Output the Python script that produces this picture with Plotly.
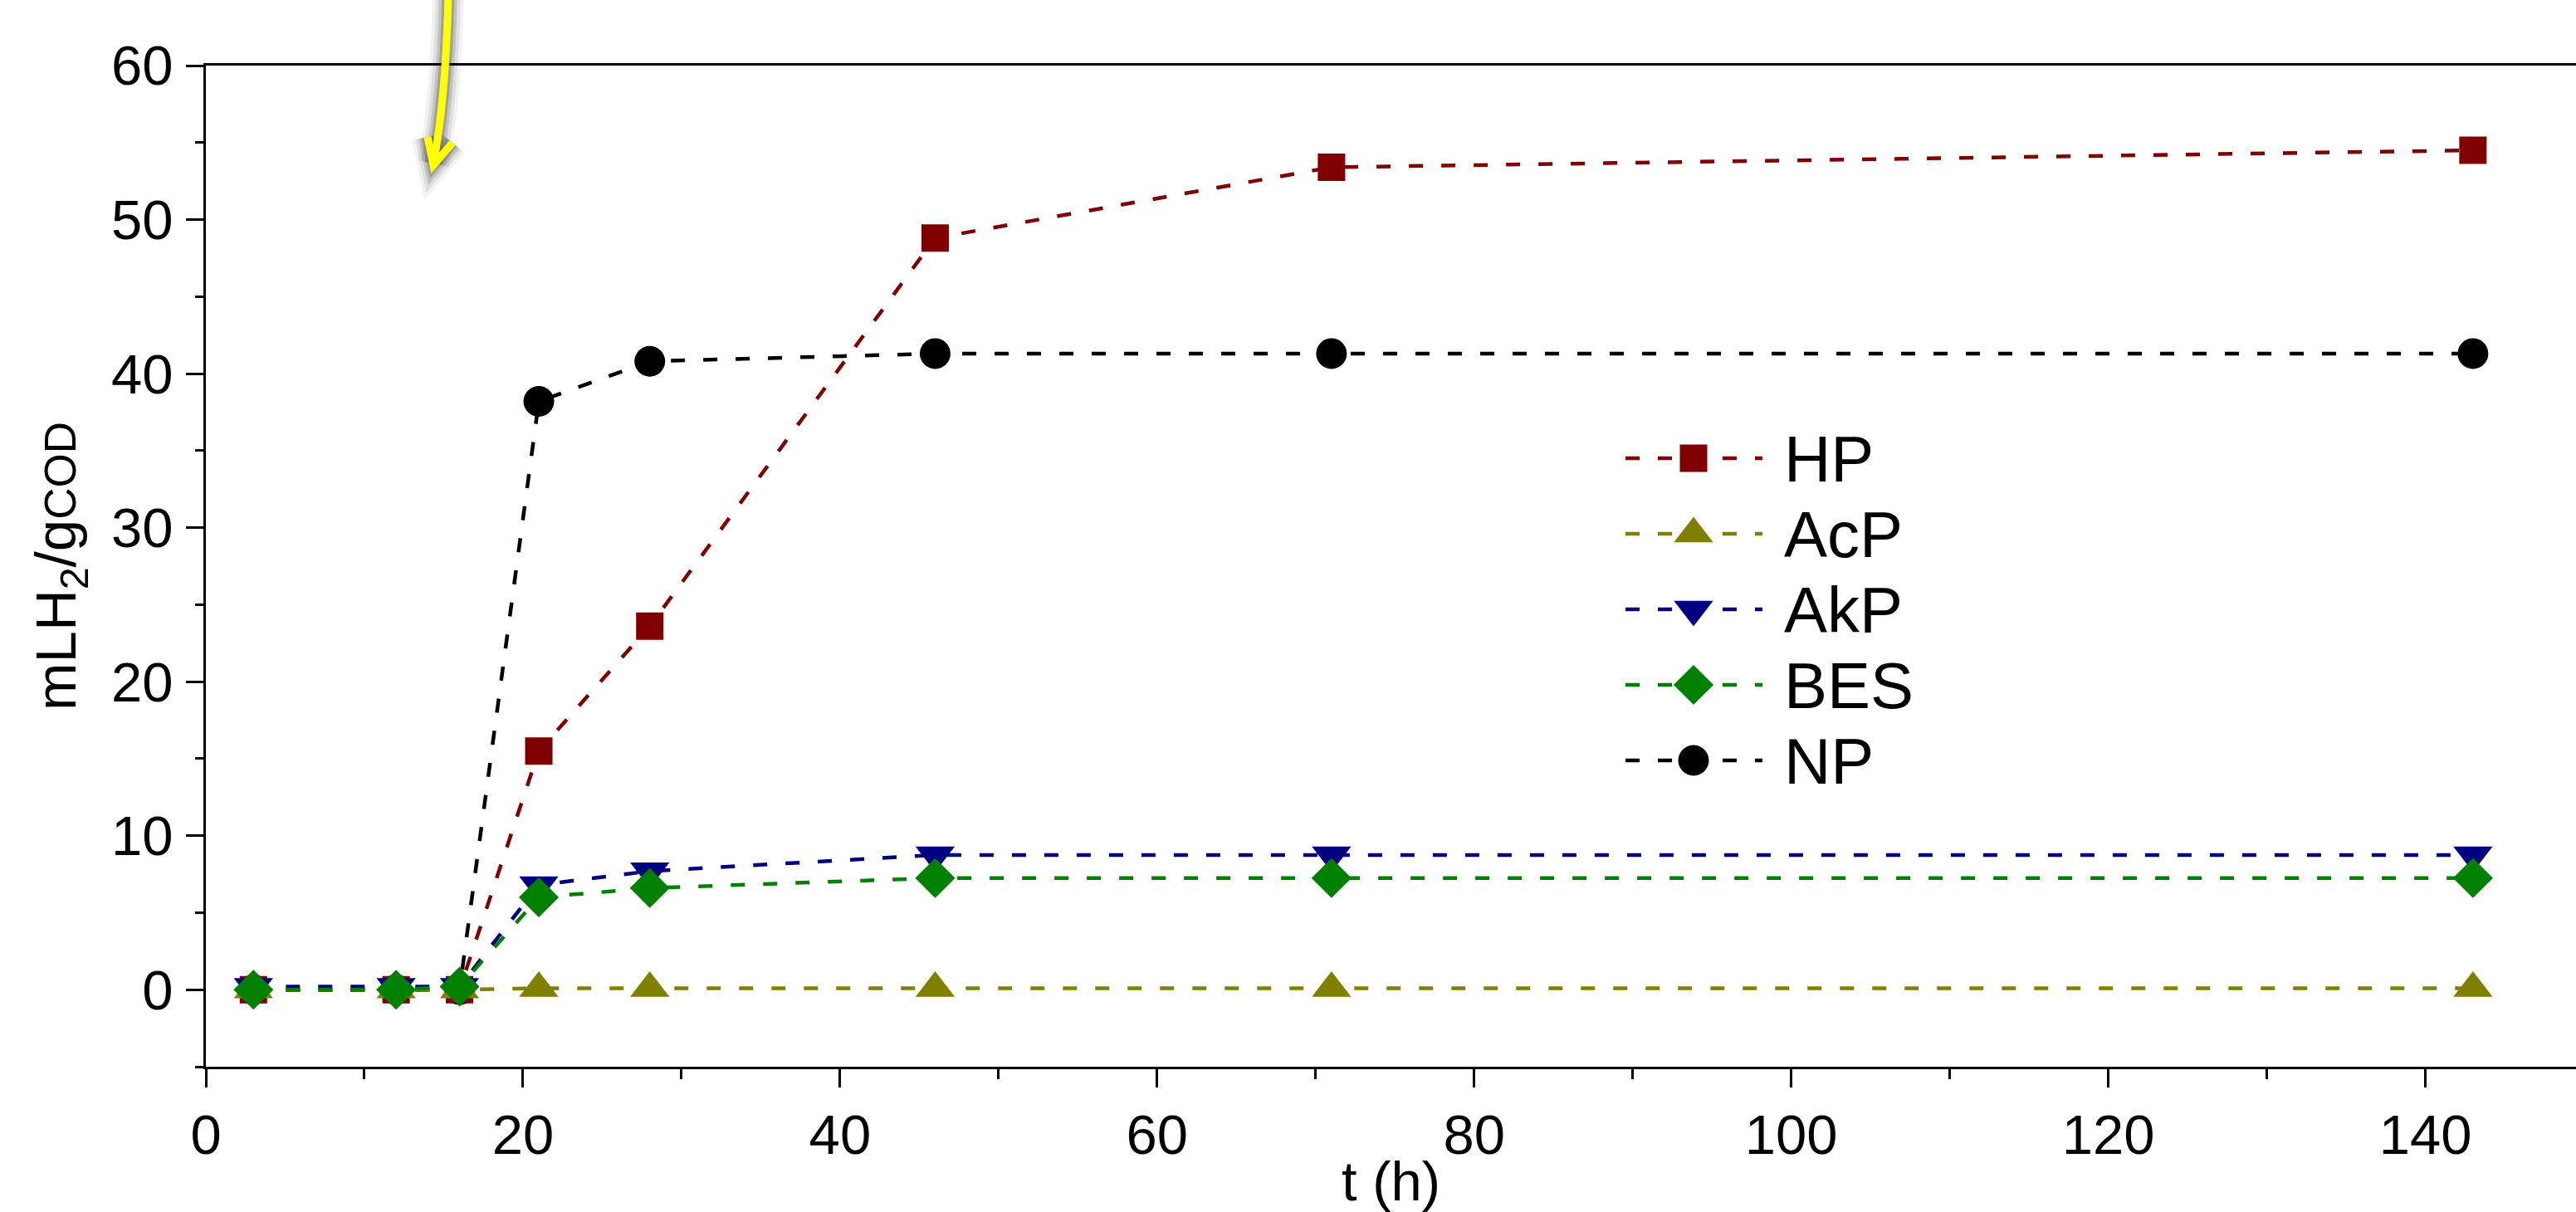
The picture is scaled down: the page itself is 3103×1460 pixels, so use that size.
import plotly.graph_objects as go

# ---------------- data ----------------
t_h = [3, 12, 16, 21, 28, 46, 71, 143]
series_names = ["HP", "AcP", "AkP", "BES", "NP"]
hp = [0.0, 0.0, 0.0, 15.5, 23.6, 48.8, 53.4, 54.5]
acp = [0.0, 0.0, 0.0, 0.1, 0.1, 0.1, 0.1, 0.1]
akp = [0.2, 0.2, 0.2, 6.8, 7.7, 8.75, 8.75, 8.75]
bes = [0.0, 0.0, 0.2, 6.0, 6.6, 7.25, 7.25, 7.25]
np_ = [0.0, 0.0, 0.0, 38.2, 40.8, 41.3, 41.3, 41.3]
x_ticks = [0, 20, 40, 60, 80, 100, 120, 140]
y_ticks = [0, 10, 20, 30, 40, 50, 60]

values = {"HP": hp, "AcP": acp, "AkP": akp, "BES": bes, "NP": np_}
colors = {"HP": "#800000", "AcP": "#808000", "AkP": "#000080", "BES": "#008000", "NP": "#000000"}
symbols = {"HP": "square", "AcP": "triangle-up", "AkP": "triangle-down", "BES": "diamond", "NP": "circle"}
sizes = {"HP": 33, "AcP": 41, "AkP": 41, "BES": 37, "NP": 37}

FONT = "Liberation Sans, Arial, Helvetica, sans-serif"
W, H = 3103, 1460
L, R, T, B = 248, 0, 79, 175
PW, PH = W - L - R, H - T - B
DASH = "17px,22px"


def px_x(px):
    return (px - L) / PW


def px_y(py):
    return (H - B - py) / PH


fig = go.Figure()

# draw order: NP at the bottom, BES on top
for name in ["NP", "HP", "AcP", "AkP", "BES"]:
    fig.add_trace(go.Scatter(
        x=t_h, y=values[name], name=name, mode="lines+markers",
        line=dict(color=colors[name], width=4.5, dash=DASH),
        marker=dict(symbol=symbols[name], size=sizes[name], color=colors[name],
                    line=dict(width=0)),
        showlegend=False, cliponaxis=False,
    ))

# ---- hand-made legend (big markers), drawn on a hidden overlay axis ----
leg_rows_px = [552, 643, 734, 825, 916]
leg_x0, leg_xm, leg_x1, leg_tx = 1958, 2040, 2123, 2147
annotations = []
for name, ry in zip(series_names, leg_rows_px):
    fig.add_trace(go.Scatter(
        x=[px_x(leg_x0), px_x(leg_x1)], y=[px_y(ry), px_y(ry)],
        mode="lines", line=dict(color=colors[name], width=4.5, dash=DASH),
        xaxis="x2", yaxis="y2", showlegend=False, hoverinfo="skip"))
    fig.add_trace(go.Scatter(
        x=[px_x(leg_xm)], y=[px_y(ry)], mode="markers",
        marker=dict(symbol=symbols[name], size=sizes[name], color=colors[name], line=dict(width=0)),
        xaxis="x2", yaxis="y2", showlegend=False, hoverinfo="skip"))
    annotations.append(dict(
        x=px_x(leg_tx), y=px_y(ry + 1), xref="paper", yref="paper",
        text=name, showarrow=False, xanchor="left", yanchor="middle",
        font=dict(family=FONT, size=78, color="black")))

# ---- yellow hand-drawn arrow with soft grey glow ----
shaft = (f"M {px_x(540)},{px_y(-6)} Q {px_x(537)},{px_y(120)} {px_x(522)},{px_y(197)}")
head = (f"M {px_x(515)},{px_y(165)} L {px_x(522)},{px_y(199)} L {px_x(545)},{px_y(172)}")
shapes = []
for w, c in [(38, "rgba(0,0,0,0.05)"), (30, "rgba(0,0,0,0.08)"), (22, "rgba(0,0,0,0.13)"),
             (15, "rgba(80,80,80,0.3)"), (9, "#ffff00")]:
    for p in (shaft, head):
        shapes.append(dict(type="path", path=p, xref="paper", yref="paper",
                           line=dict(color=c, width=w), layer="above"))

fig.update_layout(
    width=W, height=H,
    margin=dict(l=L, r=R, t=T, b=B, pad=0),
    paper_bgcolor="white", plot_bgcolor="white",
    showlegend=False,
    font=dict(family=FONT, color="black"),
    xaxis=dict(
        range=[0, 149.5], tickmode="array", tickvals=x_ticks,
        ticks="outside", ticklen=22, tickwidth=3, tickcolor="black",
        minor=dict(tickmode="linear", tick0=0, dtick=10, ticks="outside", ticklen=12,
                   tickwidth=3, tickcolor="black", showgrid=False),
        showline=True, linecolor="black", linewidth=3, mirror=True,
        showgrid=False, zeroline=False,
        tickfont=dict(family=FONT, size=67, color="black"),
        title=dict(text="t (h)", font=dict(family=FONT, size=67, color="black"), standoff=6),
        automargin=False,
    ),
    yaxis=dict(
        range=[-5, 60], tickmode="array", tickvals=y_ticks,
        ticks="outside", ticklen=21, tickwidth=3, tickcolor="black",
        minor=dict(tickmode="linear", tick0=0, dtick=5, ticks="outside", ticklen=10,
                   tickwidth=3, tickcolor="black", showgrid=False),
        showline=True, linecolor="black", linewidth=3, mirror=False,
        showgrid=False, zeroline=False,
        tickfont=dict(family=FONT, size=67, color="black"),
        ticklabelstandoff=2,
        title=dict(text="mLH<sub>2</sub>/g<span style='font-size:53px'>COD</span>",
                   font=dict(family=FONT, size=69, color="black"), standoff=20),
        automargin=False,
    ),
    xaxis2=dict(range=[0, 1], overlaying="x", visible=False, fixedrange=True),
    yaxis2=dict(range=[0, 1], overlaying="y", visible=False, fixedrange=True),
    annotations=annotations,
    shapes=shapes,
)

fig.write_html("out.html", include_plotlyjs=True, config={"displayModeBar": False})
